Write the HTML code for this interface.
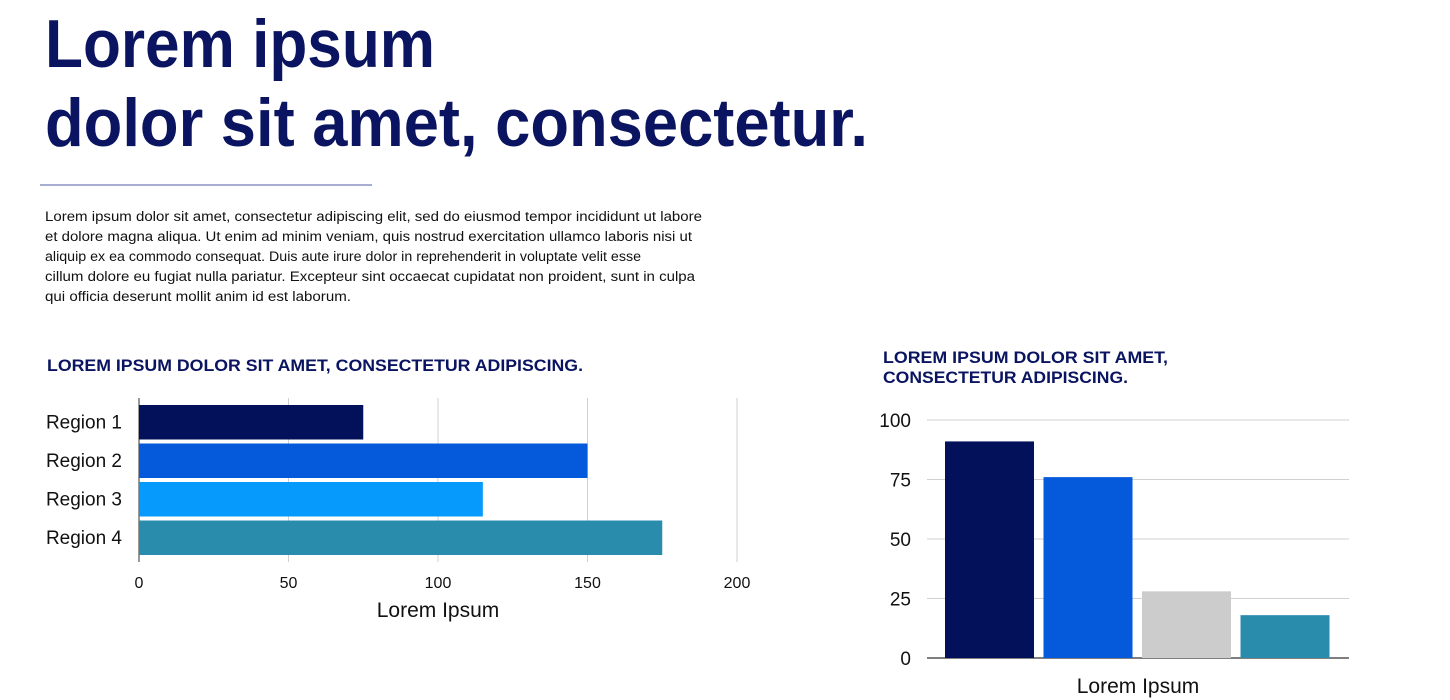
<!DOCTYPE html>
<html><head><meta charset="utf-8"><style>
html,body{margin:0;padding:0;background:#fff;width:1450px;height:700px;overflow:hidden}
svg{display:block}
text{font-family:"Liberation Sans",sans-serif}
</style></head><body>
<svg id="page" width="1450" height="700" xmlns="http://www.w3.org/2000/svg">
<g fill="#0a1460" font-weight="bold" font-size="68">
<text x="45" y="67" textLength="390" lengthAdjust="spacingAndGlyphs">Lorem ipsum</text>
<text x="45" y="146" textLength="823" lengthAdjust="spacingAndGlyphs">dolor sit amet, consectetur.</text>
</g>
<line x1="40" y1="185" x2="372" y2="185" stroke="#8a94c4" stroke-width="1.5"/>
<g fill="#111" font-size="13.5">
<text x="45" y="221" textLength="657" lengthAdjust="spacingAndGlyphs">Lorem ipsum dolor sit amet, consectetur adipiscing elit, sed do eiusmod tempor incididunt ut labore</text>
<text x="45" y="241" textLength="647" lengthAdjust="spacingAndGlyphs">et dolore magna aliqua. Ut enim ad minim veniam, quis nostrud exercitation ullamco laboris nisi ut</text>
<text x="45" y="261" textLength="596" lengthAdjust="spacingAndGlyphs">aliquip ex ea commodo consequat. Duis aute irure dolor in reprehenderit in voluptate velit esse</text>
<text x="45" y="281" textLength="650" lengthAdjust="spacingAndGlyphs">cillum dolore eu fugiat nulla pariatur. Excepteur sint occaecat cupidatat non proident, sunt in culpa</text>
<text x="45" y="301" textLength="306" lengthAdjust="spacingAndGlyphs">qui officia deserunt mollit anim id est laborum.</text>
</g>
<text x="47" y="371" fill="#0a1460" font-weight="bold" font-size="17" textLength="536" lengthAdjust="spacingAndGlyphs">LOREM IPSUM DOLOR SIT AMET, CONSECTETUR ADIPISCING.</text>
<g fill="#0a1460" font-weight="bold" font-size="17">
<text x="883" y="363" textLength="285" lengthAdjust="spacingAndGlyphs">LOREM IPSUM DOLOR SIT AMET,</text>
<text x="883" y="383" textLength="245" lengthAdjust="spacingAndGlyphs">CONSECTETUR ADIPISCING.</text>
</g>
<g id="hbar"></g>
<g id="vbar"></g>
</svg>
<script>
const hCategories = ["Region 1","Region 2","Region 3","Region 4"];
const hValues = [75,150,115,175];
const hColors = ["#02115a","#0559db","#069afc","#2a8cad"];
const hTicks = [0,50,100,150,200];
const vValues = [91,76,28,18];
const vColors = ["#02115a","#0559db","#cccccc","#2a8cad"];
const vTicks = [0,25,50,75,100];
const NS="http://www.w3.org/2000/svg";
function mk(parent,tag,attrs,txt){const e=document.createElementNS(NS,tag);for(const k in attrs)e.setAttribute(k,attrs[k]);if(txt!=null)e.textContent=txt;parent.appendChild(e);return e;}

// horizontal chart
const hg=document.getElementById('hbar');
const hx=v=>139+v*(737-139)/200;
const bandTop=401, band=38.5;
hTicks.forEach(t=>{
  const l=mk(hg,'line',{x1:hx(t),x2:hx(t),y1:398,y2:562,stroke:t===0?'#333':'#d0d0d0','stroke-width':1});
  
  
  const tx=mk(hg,'text',{x:hx(t),y:588,'text-anchor':'middle','font-size':16,fill:'#111'},t);
  
  
});
hCategories.forEach((c,i)=>{
  const y=bandTop+i*band+4;
  const r=mk(hg,'rect',{x:hx(0),y:y,width:hx(hValues[i])-hx(0),height:band-4,fill:hColors[i]});
  
  
  const tx=mk(hg,'text',{x:122,y:y+band/2+4,'text-anchor':'end','font-size':19,fill:'#111'},c);
  
  
});
const hxt=mk(hg,'text',{x:438,y:617,'text-anchor':'middle','font-size':21,fill:'#111'},'Lorem Ipsum');



// vertical chart
const vg=document.getElementById('vbar');
const vy=v=>658-v*(658-420)/100;
vTicks.forEach(t=>{
  const l=mk(vg,'line',{x1:927,x2:1349,y1:vy(t),y2:vy(t),stroke:t===0?'#555':'#d0d0d0','stroke-width':t===0?1.5:1});
  
  
  const tx=mk(vg,'text',{x:911,y:vy(t)+7,'text-anchor':'end','font-size':19,fill:'#111'},t);
  
  
});
const step=98.5;
vValues.forEach((v,i)=>{
  const x=945+i*step;
  const r=mk(vg,'rect',{x:x,y:vy(v),width:89,height:vy(0)-vy(v),fill:vColors[i]});
  
  
});
const vxt=mk(vg,'text',{x:1138,y:693,'text-anchor':'middle','font-size':21,fill:'#111'},'Lorem Ipsum');


</script>
</body></html>
